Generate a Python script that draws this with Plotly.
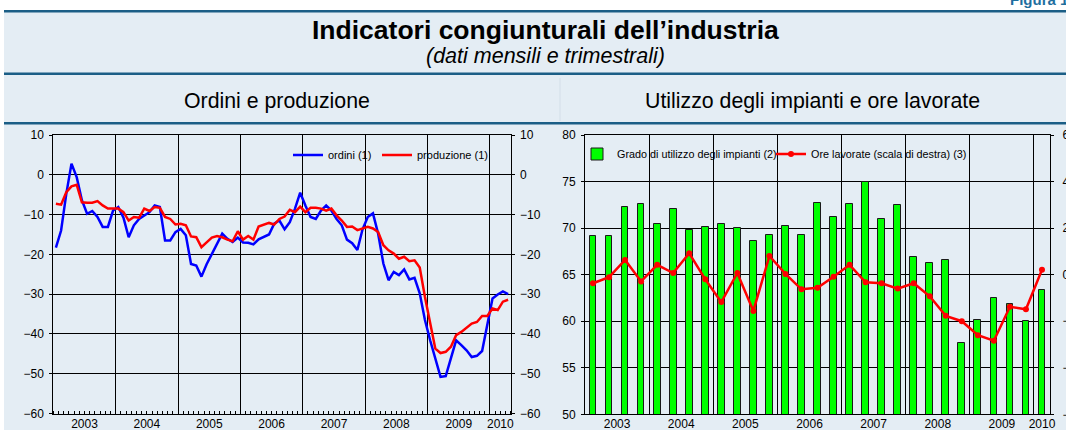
import plotly.graph_objects as go

W, H = 1066, 430

# ---------------- data ----------------
anni = ['2003', '2004', '2005', '2006', '2007', '2008', '2009', '2010']

# monthly, Jan 2003 - Apr 2010
ordini = [-18.3, -14.0, -4.8, 2.8, -0.6, -6.4, -9.8, -9.1, -10.6, -13.1, -13.1, -9.0,
          -8.1, -10.8, -15.7, -12.7, -11.1, -10.2, -9.4, -7.7, -8.1, -16.5, -16.5, -14.4,
          -13.6, -15.2, -22.4, -22.8, -25.6, -22.5, -19.8, -17.3, -14.8, -16.1, -16.9, -15.8,
          -17.0, -17.1, -17.5, -16.2, -15.7, -15.0, -12.3, -11.5, -13.7, -11.9, -8.5, -4.5,
          -7.7, -10.6, -11.1, -9.0, -7.7, -9.0, -11.1, -12.7, -16.3, -17.2, -18.9, -13.7,
          -10.6, -9.7, -14.8, -22.3, -26.5, -24.4, -25.2, -23.8, -26.3, -25.9, -29.8, -36.5,
          -41.6, -46.2, -50.8, -50.6, -45.8, -41.6, -42.8, -44.1, -45.8, -45.5, -44.3, -37.4,
          -31.1, -30.1, -29.3, -30.0]

produzione = [-7.3, -7.5, -4.4, -2.9, -2.5, -6.9, -7.0, -7.0, -6.6, -7.7, -8.5, -8.5,
              -8.5, -9.4, -11.5, -10.6, -10.8, -8.5, -9.1, -8.1, -8.3, -10.6, -11.1, -12.5,
              -12.3, -12.7, -15.5, -15.7, -18.2, -17.0, -15.8, -15.4, -15.7, -16.3, -16.7, -14.2,
              -16.3, -15.4, -16.3, -13.0, -12.5, -12.1, -12.5, -11.1, -10.5, -8.8, -9.4, -8.0,
              -9.4, -8.3, -8.3, -8.5, -9.0, -8.5, -10.2, -11.5, -13.1, -13.0, -13.9, -13.5,
              -13.1, -13.5, -14.4, -17.7, -19.0, -19.8, -21.1, -20.6, -21.7, -21.5, -23.3, -30.7,
              -37.4, -43.7, -44.8, -44.5, -43.2, -40.3, -39.5, -38.5, -37.4, -37.0, -35.5, -35.5,
              -33.6, -34.0, -31.9, -31.4]

# quarterly, 2003 Q1 - 2010 Q1
utilizzo = [69.1, 69.1, 72.3, 72.6, 70.4, 72.0, 69.8, 70.1, 70.4, 70.0, 68.6, 69.3,
            70.2, 69.3, 72.7, 71.2, 72.6, 74.9, 71.0, 72.5, 66.9, 66.2, 66.6, 57.7,
            60.1, 62.5, 61.8, 60.0, 63.4]

ore = [-3.7, -1.1, 6.3, -2.9, 4.2, 0.7, 9.2, -2.0, -11.8, 0.7, -15.6, 8.0,
       0.3, -6.3, -5.6, -0.9, 4.2, -3.3, -3.7, -6.0, -3.7, -9.3, -17.7, -20.0,
       -26.0, -28.4, -13.8, -14.9, 2.1]

left_ticks = [10, 0, -10, -20, -30, -40, -50, -60]
util_ticks = [80, 75, 70, 65, 60, 55, 50]
ore_ticks = [60, 40, 20, 0, -20, -40, -60]

# ---------------- helpers ----------------
n_m = len(ordini)
n_q = len(utilizzo)
x_m = [i + 0.5 for i in range(n_m)]
x_q = [i + 0.5 for i in range(n_q)]

m_bounds = [12 * (i + 1) for i in range(len(anni) - 1)]
m_mid = [(12 * i + min(12 * (i + 1), n_m)) / 2 for i in range(len(anni))]
q_bounds = [4 * (i + 1) for i in range(len(anni) - 1)]
q_mid = [(4 * i + min(4 * (i + 1), n_q)) / 2 for i in range(len(anni))]


def px(x):
    return x / W


def py(y):
    return 1 - y / H


FONT = "Liberation Sans, Arial, sans-serif"
BG = "#E4EDF4"
DARK = "#1B5E86"
TICKF = dict(family=FONT, size=12, color="black")

fig = go.Figure()

fig.add_trace(go.Scatter(x=x_m, y=ordini, name='ordini (1)', mode='lines',
                         line=dict(color='#0000FF', width=2.5),
                         xaxis='x', yaxis='y', legend='legend', hoverinfo='skip'))
fig.add_trace(go.Scatter(x=x_m, y=produzione, name='produzione (1)', mode='lines',
                         line=dict(color='#FF0000', width=2.5),
                         xaxis='x', yaxis='y', legend='legend3', hoverinfo='skip'))
# carriers for label axes
fig.add_trace(go.Scatter(x=[], y=[], xaxis='x3', yaxis='y', showlegend=False))
fig.add_trace(go.Scatter(x=[], y=[], xaxis='x', yaxis='y2', showlegend=False))

fig.add_trace(go.Bar(x=x_q, y=utilizzo, name='Grado di utilizzo degli impianti (2)',
                     marker=dict(color='#00FF00', line=dict(color='#1a1a1a', width=1)),
                     width=0.42, xaxis='x2', yaxis='y3', legend='legend2', hoverinfo='skip'))
fig.add_trace(go.Scatter(x=x_q, y=ore, name='Ore lavorate (scala di destra) (3)',
                         mode='lines+markers', line=dict(color='#FF0000', width=2.5),
                         marker=dict(size=6, color='#FF0000'),
                         xaxis='x2', yaxis='y4', legend='legend4', hoverinfo='skip'))
fig.add_trace(go.Scatter(x=[], y=[], xaxis='x4', yaxis='y3', showlegend=False))

L_dom = [px(53.3), px(510.7)]
R_dom = [px(585), px(1050)]
L_ydom = [py(413.5), py(135)]
R_ydom = [py(414.3), py(135)]

grid_x = dict(showticklabels=False, showgrid=True, gridcolor='black', gridwidth=1,
              showline=True, linecolor='black', linewidth=1, mirror=True,
              zeroline=False, ticks='')
lab_x = dict(showgrid=False, showline=False, zeroline=False, ticks='',
             tickfont=TICKF, ticklabelstandoff=1)


def leg(xpx, ypx, size):
    return dict(x=px(xpx), y=py(ypx), xanchor='left', yanchor='middle', orientation='h',
                bgcolor='rgba(0,0,0,0)', borderwidth=0, font=dict(family=FONT, size=size),
                itemwidth=30, tracegroupgap=0)


fig.update_layout(
    template='none',
    width=W, height=H, autosize=False,
    margin=dict(l=0, r=0, t=0, b=0),
    paper_bgcolor='white', plot_bgcolor='white',
    font=dict(family=FONT, color='black'),
    showlegend=True,
    bargap=0,
    xaxis=dict(domain=L_dom, range=[0, n_m], anchor='y', tickmode='array', tickvals=m_bounds,
               minor=dict(tickmode='linear', tick0=0, dtick=1, ticks='inside', ticklen=3,
                          tickcolor='black', showgrid=False),
               **grid_x),
    xaxis3=dict(overlaying='x', anchor='y', range=[0, n_m], tickmode='array',
                tickvals=m_mid, ticktext=anni, side='bottom', **lab_x),
    yaxis=dict(domain=L_ydom, range=[-60, 10], anchor='x', tickmode='array',
               tickvals=left_ticks, showgrid=True, gridcolor='black', gridwidth=1,
               showline=True, linecolor='black', mirror=True, zeroline=False,
               ticks='outside', ticklen=3, tickcolor='black', tickfont=TICKF,
               ticklabelstandoff=3),
    yaxis2=dict(overlaying='y', side='right', anchor='x', range=[-60, 10], tickmode='array',
                tickvals=left_ticks, showgrid=False, zeroline=False, showline=False,
                ticks='outside', ticklen=3, tickcolor='black', tickfont=TICKF,
                ticklabelstandoff=3),
    xaxis2=dict(domain=R_dom, range=[0, n_q], anchor='y3', tickmode='array',
                tickvals=q_bounds, **grid_x),
    xaxis4=dict(overlaying='x2', anchor='y3', range=[0, n_q], tickmode='array',
                tickvals=q_mid, ticktext=anni, side='bottom', **lab_x),
    yaxis3=dict(domain=R_ydom, range=[50, 80], anchor='x2', tickmode='array',
                tickvals=util_ticks, showgrid=True, gridcolor='black', gridwidth=1,
                showline=True, linecolor='black', mirror=True, zeroline=False,
                ticks='outside', ticklen=3, tickcolor='black', tickfont=TICKF,
                ticklabelstandoff=3),
    yaxis4=dict(overlaying='y3', side='right', anchor='x2', range=[-60, 60], tickmode='array',
                tickvals=ore_ticks, showgrid=False, zeroline=False, showline=False,
                ticks='outside', ticklen=3, tickcolor='black', tickfont=TICKF,
                ticklabelstandoff=6),
    legend=leg(288, 155, 11),
    legend3=leg(377, 155, 11),
    legend2=leg(577, 154, 10.8),
    legend4=leg(771, 154, 10.8),
)

shapes = [
    dict(type='rect', xref='paper', yref='paper', x0=px(4), x1=1, y0=0, y1=py(10),
         fillcolor=BG, line=dict(width=0), layer='below'),
    dict(type='line', xref='paper', yref='paper', x0=px(4), x1=1, y0=py(11.3), y1=py(11.3),
         line=dict(color=DARK, width=2.5), layer='below'),
    dict(type='line', xref='paper', yref='paper', x0=px(4), x1=1, y0=py(73.7), y1=py(73.7),
         line=dict(color=DARK, width=2.5), layer='below'),
    dict(type='line', xref='paper', yref='paper', x0=px(4), x1=1, y0=py(123.3), y1=py(123.3),
         line=dict(color=DARK, width=2.5), layer='below'),
    dict(type='line', xref='paper', yref='paper', x0=px(560), x1=px(560), y0=py(78), y1=py(121),
         line=dict(color='#D3DEE8', width=1), layer='below'),
]
fig.update_layout(shapes=shapes)

annotations = [
    dict(text='<b>Indicatori congiunturali dell’industria</b>', x=px(545), y=py(30),
         xanchor='center', yanchor='middle', font=dict(family=FONT, size=26.5, color='black')),
    dict(text='<i>(dati mensili e trimestrali)</i>', x=px(545), y=py(56),
         xanchor='center', yanchor='middle', font=dict(family=FONT, size=21.5, color='black')),
    dict(text='Ordini e produzione', x=px(277), y=py(101),
         xanchor='center', yanchor='middle', font=dict(family=FONT, size=21.3, color='black')),
    dict(text='Utilizzo degli impianti e ore lavorate', x=px(812), y=py(101),
         xanchor='center', yanchor='middle', font=dict(family=FONT, size=21.3, color='black')),
    dict(text='<b>Figura 1.</b>', x=px(1008), y=py(10), xanchor='left', yanchor='bottom',
         font=dict(family=FONT, size=15, color='#1F6F9F')),
]
for a in annotations:
    a.update(xref='paper', yref='paper', showarrow=False)
fig.update_layout(annotations=annotations)

fig.write_html("out.html", config={'displayModeBar': False},
               post_script="document.body.style.margin='0px';")
